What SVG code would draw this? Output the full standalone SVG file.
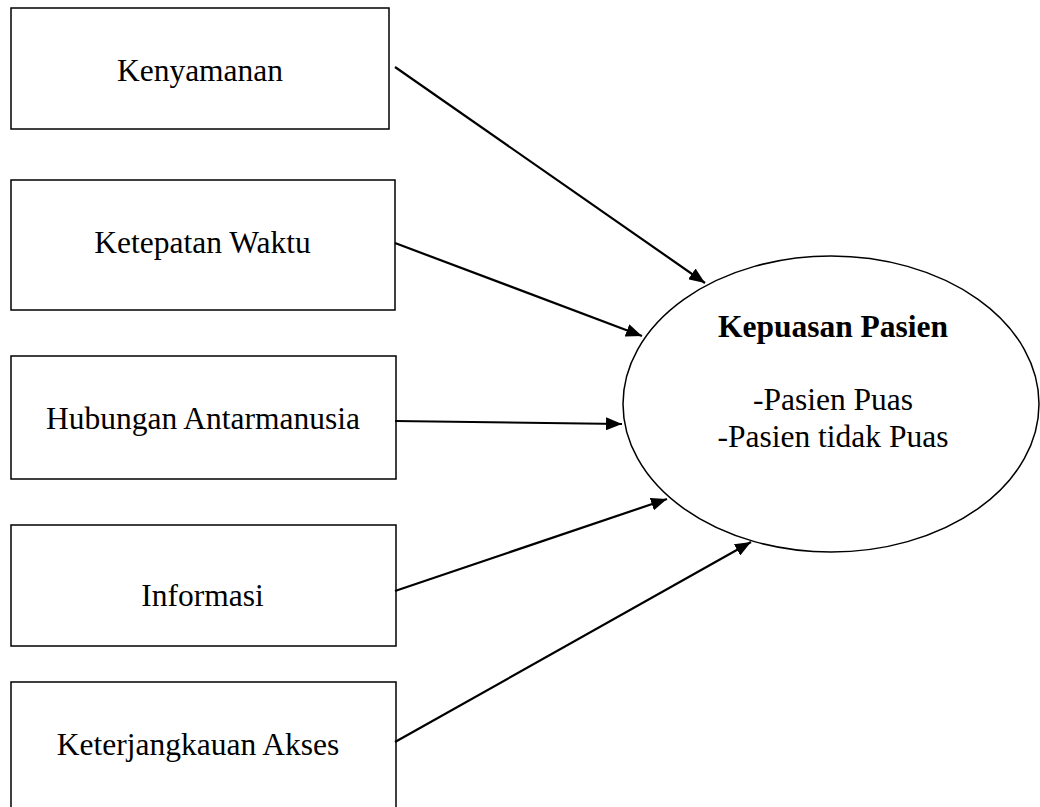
<svg xmlns="http://www.w3.org/2000/svg" width="1040" height="807" viewBox="0 0 1040 807">
<style>
.box{fill:#fff;stroke:#000;stroke-width:1.5}
.ell{fill:#fff;stroke:#000;stroke-width:1.5}
.lbl{font-family:"Liberation Serif","Times New Roman",serif;font-size:31.5px;fill:#000;text-anchor:middle}
.b{font-weight:bold}
.con{stroke:#000;stroke-width:2.2;fill:none;marker-end:url(#ah)}
</style>
<defs>
<marker id="ah" markerUnits="userSpaceOnUse" markerWidth="17" markerHeight="13" refX="16" refY="6.5" orient="auto" viewBox="0 0 17 13">
<path d="M0,0 L16,6.5 L0,13 Z" fill="#000"/>
</marker>
</defs>
<rect width="1040" height="807" fill="#fff"/>
<g id="n1"><rect class="box" x="11" y="8" width="378" height="121"/><text class="lbl" x="200" y="81">Kenyamanan</text></g>
<g id="n2"><rect class="box" x="11" y="180" width="384" height="130"/><text class="lbl" x="202.5" y="253">Ketepatan Waktu</text></g>
<g id="n3"><rect class="box" x="11" y="356" width="385" height="123"/><text class="lbl" x="203" y="429">Hubungan Antarmanusia</text></g>
<g id="n4"><rect class="box" x="11" y="525" width="385" height="121"/><text class="lbl" x="202.5" y="606">Informasi</text></g>
<g id="n5"><rect class="box" x="11" y="682" width="385" height="135"/><text class="lbl" x="198" y="755">Keterjangkauan Akses</text></g>
<g id="n6"><ellipse class="ell" cx="831" cy="404" rx="208" ry="148"/>
<text class="lbl b" x="833" y="337">Kepuasan Pasien</text>
<text class="lbl" x="833" y="410">-Pasien Puas</text>
<text class="lbl" x="833" y="447">-Pasien tidak Puas</text></g>
<g id="connectors">
<line class="con" x1="395" y1="67" x2="705" y2="283"/>
<line class="con" x1="395" y1="243" x2="642" y2="336"/>
<line class="con" x1="395" y1="421" x2="622" y2="424"/>
<line class="con" x1="395" y1="591" x2="667" y2="499"/>
<line class="con" x1="395" y1="742" x2="751" y2="542"/>
</g>
</svg>
